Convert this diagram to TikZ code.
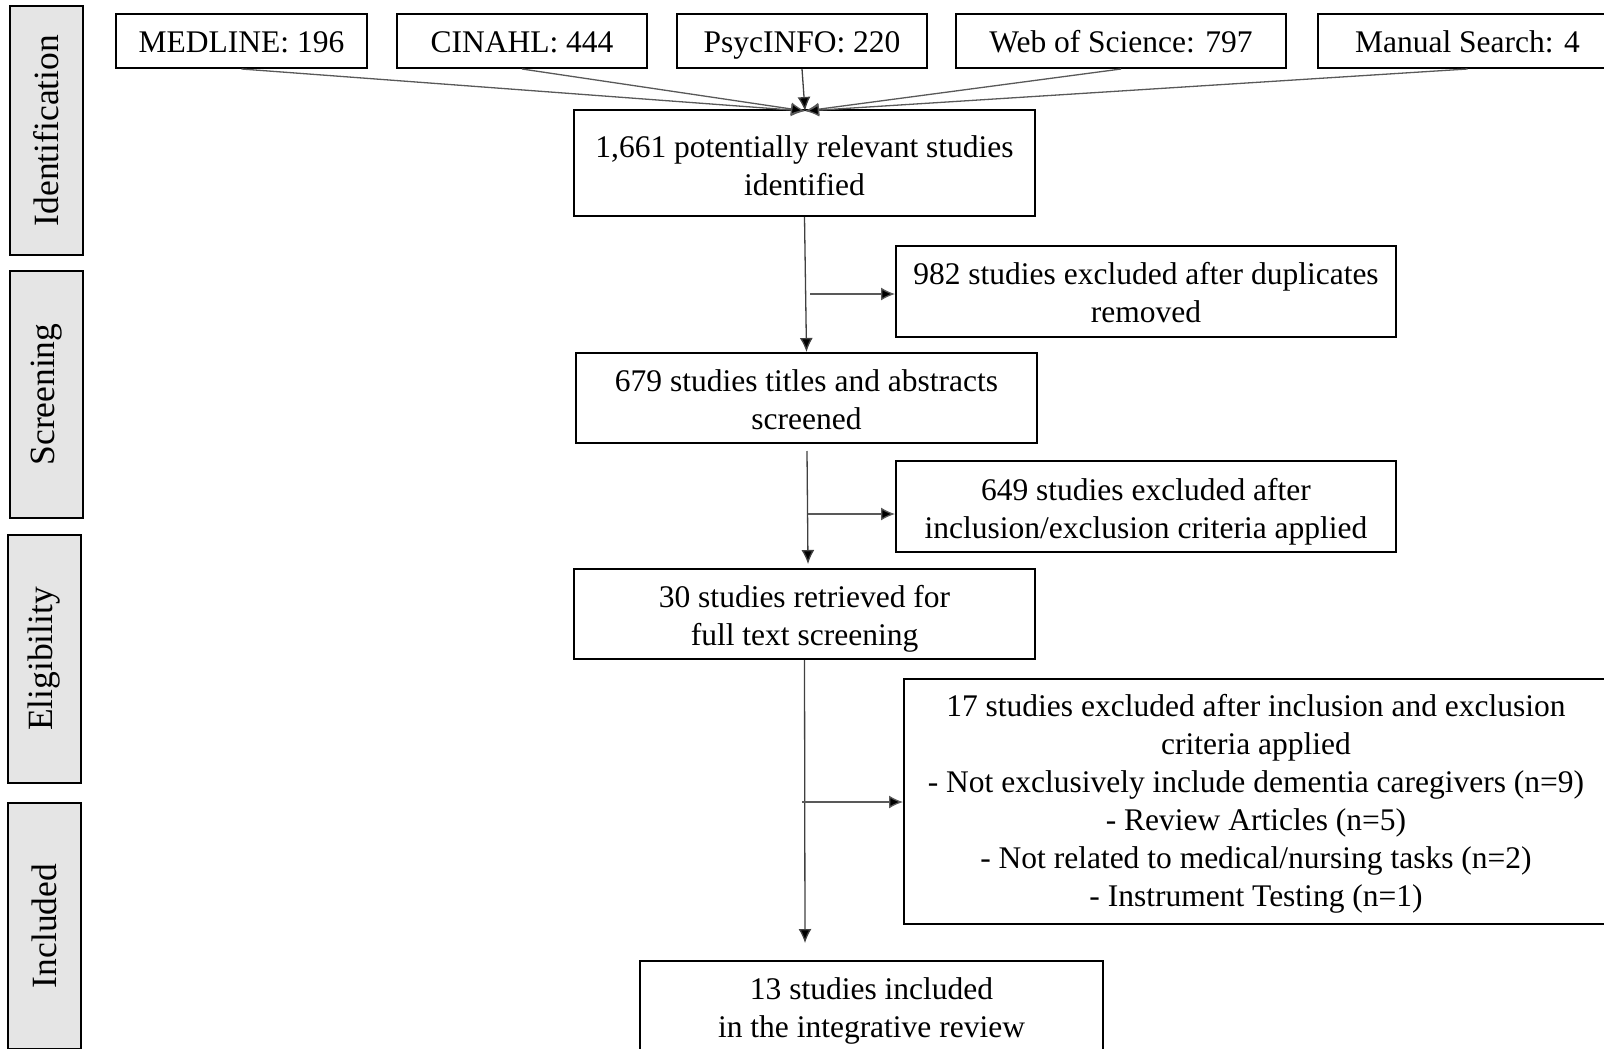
\documentclass[tikz,border=0pt]{standalone}
\usepackage{fontspec}
\setmainfont{Liberation Serif}
\usetikzlibrary{arrows.meta,calc}
\begin{document}
\begin{tikzpicture}[x=1pt,y=-1pt,
  box/.style={draw=black,line width=2pt,fill=white,inner sep=0pt,align=center,font=\fontsize{31.5}{38}\selectfont},
  one/.style={box,minimum height=54pt,text height=24pt,text depth=0pt},
  two/.style={box,text height=64pt,text depth=0pt},
  bar/.style={draw=black,line width=2pt,fill=black!10,inner sep=0pt,rotate=90,minimum height=73pt,font=\fontsize{35.5}{40}\selectfont},
  conn/.style={line width=1.3pt,draw=black!65,-{Latex[length=14pt,width=13pt,fill=black]}},
  flow/.style={line width=1.3pt,draw=black!75,-{Latex[length=14pt,width=13pt,fill=black]}}]
\useasboundingbox (0,0) rectangle (1604,1049);
\clip (0,0) rectangle (1604,1049);
% phase bars
\node[bar,minimum width=249pt] (pid) at (46.5,130.5) {Identification};
\node[bar,minimum width=247pt] (psc) at (46.5,394.5) {Screening};
\node[bar,minimum width=248pt] (pel) at (44.5,659) {Eligibility};
\node[bar,minimum width=246pt] (pin) at (44.5,926) {Included};
% sources
\node[one,minimum width=251pt] (med) at (241.5,41) {MEDLINE: 196};
\node[one,minimum width=250pt] (cin) at (522,41) {CINAHL: 444};
\node[one,minimum width=250pt] (psy) at (802,41) {PsycINFO: 220};
\node[one,minimum width=330pt] (wos) at (1121,41) {Web of Science: 797};
\node[one,minimum width=299pt] (man) at (1467.5,41) {Manual Search: 4};
% main flow
\node[two,minimum width=461pt,minimum height=106pt] (b1661) at (804.5,163) {1,661 potentially relevant studies\\identified};
\node[two,minimum width=500pt,minimum height=91pt,text height=62pt] (b982) at (1146,291.5) {982 studies excluded after duplicates\\removed};
\node[two,minimum width=461pt,minimum height=90pt,text height=63pt] (b679) at (806.5,398) {679 studies titles and abstracts\\screened};
\node[two,minimum width=500pt,minimum height=91pt,text height=64pt] (b649) at (1146,506.5) {649 studies excluded after\\inclusion/exclusion criteria applied};
\node[two,minimum width=461pt,minimum height=90pt,text height=63pt] (b30) at (804.5,614) {30 studies retrieved for\\full text screening};
\node[box,minimum width=704pt,minimum height=245pt,text height=209pt,text depth=0pt] (b17) at (1256,801.5) {17 studies excluded after inclusion and exclusion\\criteria applied\\- Not exclusively include dementia caregivers (n=9)\\- Review Articles (n=5)\\- Not related to medical/nursing tasks (n=2)\\- Instrument Testing (n=1)};
\node[two,minimum width=463pt,minimum height=92pt,text height=60pt] (b13) at (871.5,1007) {13 studies included\\in the integrative review};
% auxiliary coordinates
\coordinate (conv) at (805,111);
\coordinate (s1) at (810,294);
\coordinate (a2) at (807,451);
\coordinate (e2) at (808,564);
\coordinate (s2) at (808,514);
\coordinate (s3) at (802,802);
\coordinate (e3) at (805,943);
% connectors
\draw[conn] (med.south) -- (conv);
\draw[conn] (cin.south) -- (conv);
\draw[flow] (psy.south) -- (conv);
\draw[conn] (wos.south) -- (conv);
\draw[conn] (man.south) -- (conv);
\draw[flow] (b1661.south) -- (b679.north);
\draw[conn] (s1) -- (s1 -| b982.west);
\draw[flow] (a2) -- (e2);
\draw[conn] (s2) -- (s2 -| b649.west);
\draw[flow] (b30.south) -- (e3);
\draw[conn] (s3) -- (s3 -| b17.west);
\end{tikzpicture}
\end{document}
